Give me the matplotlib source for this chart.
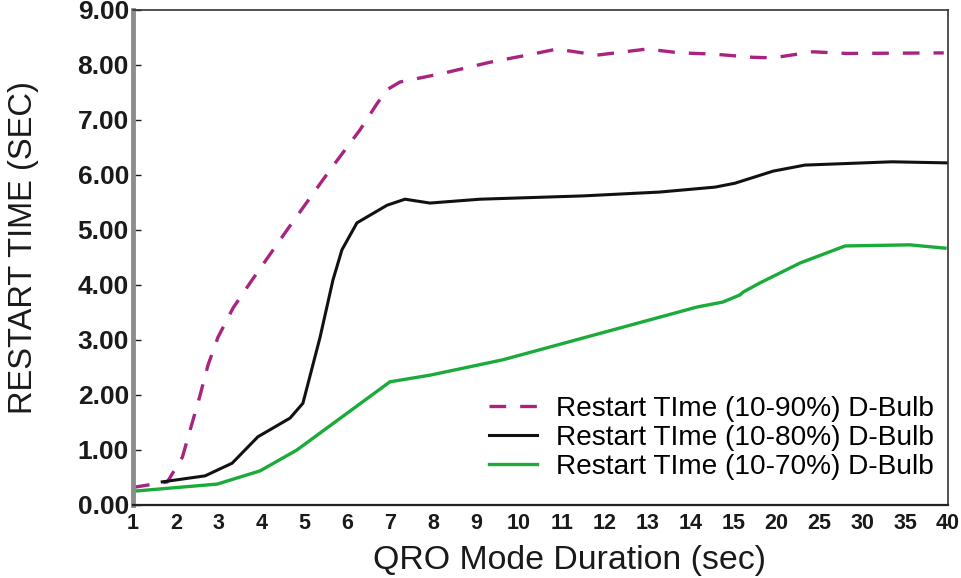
import matplotlib.pyplot as plt

plt.rcParams['font.family'] = ['Liberation Sans', 'DejaVu Sans']

# x axis categories (evenly spaced on the chart)
durations = ['1', '2', '3', '4', '5', '6', '7', '8', '9', '10', '11', '12',
             '13', '14', '15', '20', '25', '30', '35', '40']

# curves; x is the position on the category axis
x_90 = [0, 0.8, 1.15, 1.55, 1.75, 1.98, 2.33, 2.73, 3.59, 4.59, 5.29, 5.69,
        5.92, 6.22, 7.23, 8.32, 9.32, 9.88, 10.82, 11.98, 12.75, 13.5,
        14.45, 14.92, 15.85, 16.64, 18.9]
y_90 = [0.32, 0.42, 0.87, 1.96, 2.55, 3.05, 3.58, 4.04, 5.0, 6.09, 6.82, 7.3,
        7.55, 7.69, 7.85, 8.05, 8.2, 8.29, 8.18, 8.29, 8.22, 8.2,
        8.14, 8.13, 8.24, 8.21, 8.22]

x_80 = [0.68, 1.68, 2.31, 2.91, 3.66, 3.96, 4.36, 4.66, 4.87, 5.22, 5.92,
        6.34, 6.92, 8.09, 10.49, 12.28, 13.57, 14.03, 14.92, 15.66, 17.69, 19.0]
y_80 = [0.42, 0.53, 0.76, 1.24, 1.58, 1.85, 3.05, 4.09, 4.64, 5.13, 5.45,
        5.56, 5.49, 5.56, 5.62, 5.69, 5.78, 5.85, 6.07, 6.18, 6.24, 6.22]

x_70 = [0, 1.96, 2.96, 3.82, 4.87, 5.99, 6.92, 8.62, 13.15, 13.75, 14.15,
        14.22, 14.62, 15.55, 16.6, 18.11, 18.93]
y_70 = [0.25, 0.38, 0.62, 1.0, 1.6, 2.24, 2.36, 2.64, 3.6, 3.69, 3.82,
        3.87, 4.04, 4.4, 4.71, 4.73, 4.67]

fig = plt.figure(figsize=(9.62, 5.78), dpi=100)
ax = fig.add_axes([0.1383, 0.1263, 0.8472, 0.8564])

ax.plot(x_90, y_90, color='#a8247f', lw=2.4, dashes=(5.0, 4.2),
        label='Restart TIme (10-90%) D-Bulb')
ax.plot(x_80, y_80, color='#111111', lw=2.2, label='Restart TIme (10-80%) D-Bulb')
ax.plot(x_70, y_70, color='#1aab3a', lw=2.4, label='Restart TIme (10-70%) D-Bulb')

ax.set_xlim(0, len(durations) - 1)
ax.set_ylim(0, 9)
ax.set_xticks(range(len(durations)))
ax.set_xticklabels(durations, fontsize=15.5, fontweight='bold')
ax.set_yticks(range(10))
ax.set_yticklabels(['%.2f' % v for v in range(10)], fontsize=19, fontweight='bold')
ax.tick_params(axis='x', length=0, pad=6, colors='#1a1a1a')
ax.tick_params(axis='y', direction='in', length=6, width=1, pad=3, colors='#1a1a1a')

for side in ['top', 'right']:
    ax.spines[side].set_color('#333333')
    ax.spines[side].set_linewidth(1.2)
ax.spines['bottom'].set_color('#222222')
ax.spines['bottom'].set_linewidth(1.6)
ax.spines['left'].set_color('#8c8c8c')
ax.spines['left'].set_linewidth(3.5)

ax.set_xlabel('QRO Mode Duration (sec)', fontsize=24.4, color='#1a1a1a')
ax.xaxis.set_label_coords(0.536, -0.112, transform=ax.transAxes)
ax.xaxis.label.set_va('center')
ax.set_ylabel('RESTART TIME (SEC)', fontsize=23.5, color='#1a1a1a')
ax.yaxis.set_label_coords(-0.135, 0.52, transform=ax.transAxes)
ax.yaxis.label.set_va('center')

ax.legend(loc='lower right', bbox_to_anchor=(1.014, 0.0), frameon=False,
          fontsize=20.2, handlelength=1.7, labelspacing=0.1,
          handletextpad=0.7, borderaxespad=0.5)

fig.savefig('out.png', dpi=100)
